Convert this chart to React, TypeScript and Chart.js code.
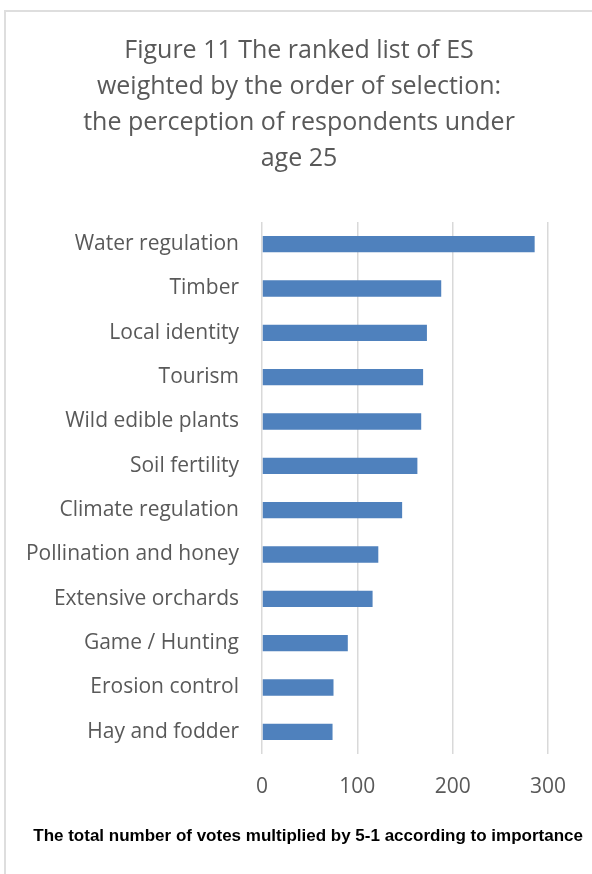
import React, { useEffect, useRef } from "react";
import { Chart, registerables } from "chart.js";

Chart.register(...registerables);

const titleLines = [
  "Figure 11 The ranked list of ES",
  "weighted by the order of selection:",
  "the perception of respondents under",
  "age 25",
];

const axisTitle = "The total number of votes multiplied by 5-1 according to importance";

const categories = [
  "Water regulation",
  "Timber",
  "Local identity",
  "Tourism",
  "Wild edible plants",
  "Soil fertility",
  "Climate regulation",
  "Pollination and honey",
  "Extensive orchards",
  "Game / Hunting",
  "Erosion control",
  "Hay and fodder",
];

const weightedVotes = [286, 188, 173, 169, 167, 163, 147, 122, 116, 90, 75, 74];

const xMin = 0;
const xMax = 300;
const xStep = 100;

const W = 592;
const H = 874;
const TEXT_GREY = "#595959";
const BAR_BLUE = "#4f81bd";
const GRID_GREY = "#d9d9d9";

export default function App() {
  const canvasRef = useRef<HTMLCanvasElement | null>(null);

  useEffect(() => {
    const canvas = canvasRef.current;
    if (!canvas) return;

    const chart = new Chart(canvas, {
      type: "bar",
      data: {
        labels: categories,
        datasets: [
          {
            data: weightedVotes,
            backgroundColor: BAR_BLUE,
            borderWidth: 0,
            categoryPercentage: 1,
            barPercentage: 0.367,
          },
        ],
      },
      options: {
        indexAxis: "y",
        responsive: false,
        animation: false,
        devicePixelRatio: 1,
        layout: { padding: { left: 15, right: 9, top: 0, bottom: 0 } },
        plugins: {
          legend: { display: false },
          tooltip: { enabled: false },
          title: {
            display: true,
            text: titleLines,
            color: TEXT_GREY,
            font: { family: "'Open Sans', sans-serif", size: 25, weight: "normal", lineHeight: "36px" },
            padding: { top: 33, bottom: 45 },
          },
          subtitle: {
            display: true,
            position: "bottom",
            align: "end",
            text: axisTitle,
            color: "#000000",
            font: { family: "'Liberation Sans Narrow', 'Liberation Sans', Arial, sans-serif", size: 17, weight: "bold", lineHeight: 1.2 },
            padding: { top: 0, bottom: 27.8 },
          },
        },
        scales: {
          x: {
            type: "linear",
            position: "bottom",
            min: xMin,
            max: xMax,
            ticks: {
              stepSize: xStep,
              color: TEXT_GREY,
              font: { family: "'Open Sans', sans-serif", size: 21 },
              padding: 20,
              maxRotation: 0,
            },
            grid: { color: GRID_GREY, lineWidth: 1.5, drawTicks: false },
            border: { display: false },
            afterFit: (scale: any) => {
              scale.height = 71.8;
              scale.paddingRight = 44;
            },
          },
          y: {
            type: "category",
            ticks: {
              color: TEXT_GREY,
              font: { family: "'Open Sans', sans-serif", size: 21 },
              padding: 23,
              crossAlign: "near",
              autoSkip: false,
            },
            grid: { display: false, drawTicks: false },
            border: { display: false },
            afterFit: (scale: any) => {
              scale.width = 262 - 15;
            },
          },
        },
      },
    });

    return () => {
      chart.destroy();
    };
  }, []);

  return (
    <div style={{ position: "fixed", left: 0, top: 0, width: W, height: H, overflow: "hidden", background: "#ffffff" }}>
      <div
        style={{
          position: "absolute",
          left: 4,
          top: 10,
          width: 700,
          height: 1000,
          borderLeft: "2px solid #dedede",
          borderTop: "2px solid #dedede",
        }}
      />
      <canvas
        ref={canvasRef}
        width={W}
        height={H}
        style={{ position: "absolute", left: 0, top: 0, width: W, height: H }}
      />
    </div>
  );
}
